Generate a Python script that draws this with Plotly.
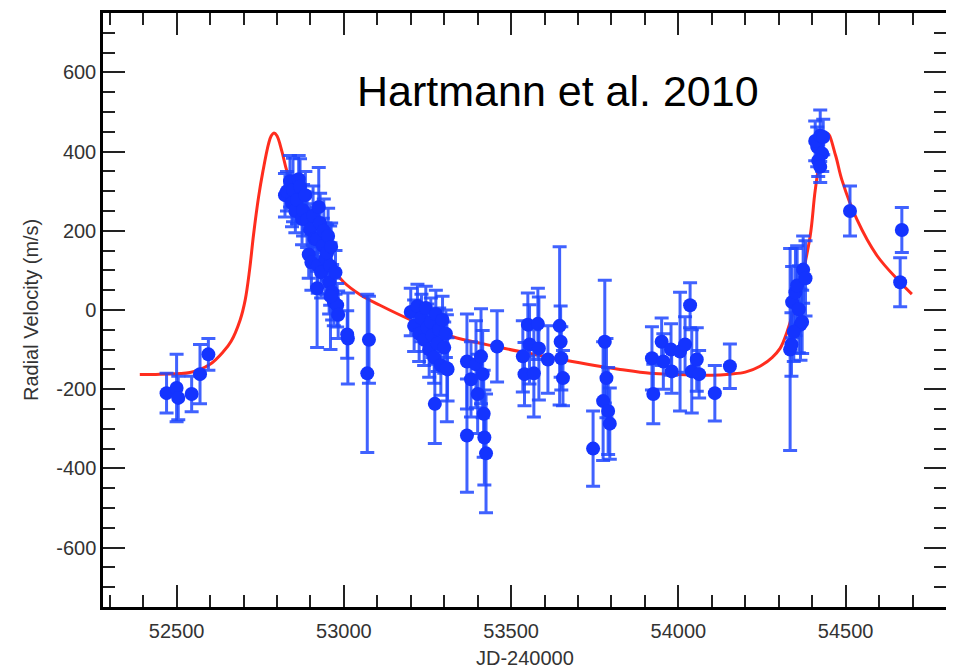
import plotly.graph_objects as go

# Keplerian fit curve
curve_jd = [52390, 52450, 52540, 52600, 52640, 52663, 52690, 52705, 52718, 52730, 52745, 52758,
            52775, 52783, 52791, 52800, 52815, 52830, 52870, 52900, 52930, 52965, 53000, 53050,
            53108, 53200, 53323, 53430, 53527, 53650, 53750, 53826, 53915, 54000, 54100, 54154,
            54200, 54244, 54280, 54304, 54325, 54360, 54394, 54409, 54430, 54447, 54470, 54489,
            54534, 54594, 54663, 54698]
curve_rv = [-163, -162, -158, -137, -105, -79, -25, 25, 100, 190, 285, 350,
            420, 440, 447, 440, 400, 350, 265, 210, 160, 107, 70, 38,
            12, -25, -67, -88, -105, -125, -140, -150, -160, -163, -165, -162,
            -157, -142, -120, -97, -55, 50, 187, 302, 410, 445, 390, 328,
            228, 137, 70, 40]

# Observations
obs_jd = [52470, 52500, 52505, 52545, 52570, 52595,
          52824, 52830, 52839, 52845, 52848, 52855, 52860, 52865, 52869, 52875, 52878, 52885,
          52890, 52895, 52899, 52903, 52908, 52912, 52920, 52922, 52925, 52929, 52932, 52937,
          52940, 52945, 52950, 52953, 52956, 52959, 52962, 52965, 52970, 52975, 52980, 52983,
          52920, 52960, 53012, 53010, 53075, 53070,
          53200, 53210, 53220, 53225, 53232, 53240, 53245, 53250, 53255, 53260, 53265, 53270,
          53275, 53280, 53285, 53290, 53295, 53300, 53305, 53310, 53272, 53308,
          53368, 53368, 53395, 53400, 53410, 53415, 53418, 53420, 53425, 53458, 53380,
          53535, 53540, 53550, 53555, 53568, 53580, 53583, 53610, 53645, 53648, 53650, 53655,
          53745, 53780, 53785, 53775, 53790, 53795,
          53921, 53925, 53950, 53955, 53978, 53980, 54005, 54020, 54035, 54040, 54055, 54062,
          54109, 54154,
          54334, 54338, 54340, 54350, 54355, 54360, 54365, 54345, 54370, 54373, 54380,
          54415, 54409, 54424, 54430, 54418, 54424, 54433,
          54513, 54668, 54663]
obs_rv = [-210, -197, -222, -212, -162, -112,
          290, 300, 325, 270, 303, 250, 278, 330, 312, 230, 252, 290,
          228, 140, 203, 120, 238, 180, 178, 112, 260, 220, 95, 162,
          200, 130, 145, 187, 70, 112, 160, 45, 20, 95, 12, -12,
          55, 35, -72, -62, -75, -160,
          -5, -40, 10, -60, -20, -75, 5, -45, -100, -30, -65, -120,
          -10, -85, -50, -140, -25, -95, -60, -150, -237, -147,
          -130, -317, -137, -212, -117, -162, -262, -322, -362, -92, -175,
          -117, -162, -37, -87, -160, -35, -97, -125, -40, -80, -122, -172,
          -350, -80, -172, -230, -255, -287,
          -122, -212, -80, -130, -100, -155, -105, -87, 12, -155, -125, -162,
          -210, -142,
          -100, -87, 20, 45, 62, 2, -37, -55, -30, 102, 80,
          412, 427, 440, 395, 377, 362, 437,
          250, 202, 70]
obs_err = [50, 85, 55, 45, 75, 40,
           55, 50, 65, 60, 80, 55, 60, 60, 70, 65, 65, 60,
           70, 60, 65, 70, 75, 70, 80, 70, 100, 75, 65, 70,
           80, 90, 70, 70, 80, 100, 60, 70, 60, 55, 55, 60,
           150, 135, 115, 60, 110, 200,
           60, 65, 55, 70, 60, 65, 55, 60, 70, 60, 55, 65,
           60, 70, 55, 75, 60, 65, 60, 80, 100, 135,
           120, 143, 110, 100, 120, 110, 110, 120, 150, 90, 95,
           90, 80, 80, 100, 110, 90, 130, 85, 200, 90, 80, 70,
           95, 155, 100, 150, 110, 90,
           80, 75, 60, 70, 65, 55, 150, 70, 57, 105, 80, 60,
           70, 56,
           255, 80, 90, 110, 100, 110, 90, 75, 80, 85, 95,
           50, 50, 65, 45, 40, 40, 45,
           63, 57, 62]

y_tickvals = [-600, -400, -200, 0, 200, 400, 600]
y_ticktext = ['-600', '-400', '-200', '0', '200', '400', '600']

fig = go.Figure()
fig.add_trace(go.Scatter(
    x=curve_jd, y=curve_rv, mode='lines',
    line=dict(color='#ff2d1e', width=3, shape='spline', smoothing=1.0),
    hoverinfo='skip'))
fig.add_trace(go.Scatter(
    x=obs_jd, y=obs_rv, mode='markers',
    marker=dict(color='#1434ff', size=14),
    error_y=dict(type='data', array=obs_err, color='rgba(30,70,255,0.85)',
                 thickness=3, width=7)))

axis_common = dict(showline=True, linecolor='black', linewidth=2.5, mirror='allticks',
                   ticks='inside', ticklen=22, tickwidth=2, tickcolor='#222',
                   showgrid=False, zeroline=False,
                   tickfont=dict(size=20, color='#333'))
fig.update_xaxes(range=[52280, 54800], dtick=500, tickformat='d', ticklabelstandoff=4,
                 minor=dict(dtick=100, ticklen=12, tickwidth=2, tickcolor='#222',
                            ticks='inside', showgrid=False),
                 **axis_common)
fig.update_yaxes(range=[-750, 750], tickvals=y_tickvals, ticktext=y_ticktext,
                 minor=dict(dtick=50, ticklen=12, tickwidth=2, tickcolor='#222',
                            ticks='inside', showgrid=False),
                 **axis_common)

# page body has an 8px default margin, so the figure is sized/offset to compensate
fig.update_layout(
    width=946, height=662,
    margin=dict(l=95, r=8, t=2, b=63),
    plot_bgcolor='white', paper_bgcolor='white', showlegend=False,
    font=dict(family='Liberation Sans, Arial, sans-serif', color='#333', size=20),
    annotations=[
        dict(text='Hartmann et al. 2010', xref='paper', yref='paper',
             x=0.299, y=0.869, xanchor='left', yanchor='middle', showarrow=False,
             font=dict(size=43, color='black')),
        dict(text='JD-240000', xref='paper', yref='paper', x=0.5, y=-0.0854,
             xanchor='center', yanchor='middle', showarrow=False,
             font=dict(size=20, color='#333')),
        dict(text='Radial Velocity (m/s)', xref='paper', yref='paper', x=-0.0854, y=0.5,
             xanchor='center', yanchor='middle', textangle=-90, showarrow=False,
             font=dict(size=20, color='#333')),
    ])

fig.write_html('out.html')
